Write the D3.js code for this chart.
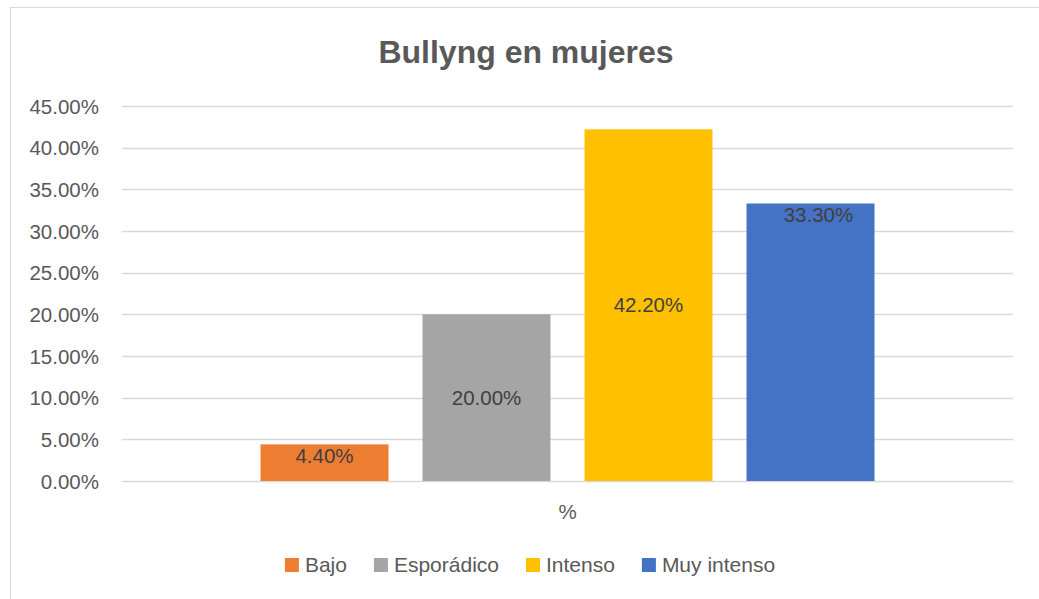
<!DOCTYPE html>
<html>
<head>
<meta charset="utf-8">
<script src="https://cdn.jsdelivr.net/npm/d3@7"></script>
<style>
  html, body { margin: 0; padding: 0; background: #fff; }
  svg { display: block; font-family: "Liberation Sans", Arial, sans-serif; }
</style>
</head>
<body>
<svg id="chart" width="1039" height="599"></svg>
<script>
const title = "Bullyng en mujeres";
const category = "%";
const series = ["Bajo", "Esporádico", "Intenso", "Muy intenso"];
const values = [0.044, 0.20, 0.422, 0.333];
const colors = ["#ED7D31", "#A5A5A5", "#FFC000", "#4472C4"];
const labelPlacement = ["end", "center", "center", "end"];
const yTicks = [0, 0.05, 0.10, 0.15, 0.20, 0.25, 0.30, 0.35, 0.40, 0.45];

const svg = d3.select("#chart");
const FS = "20.5px";

// chart frame (extends past the right/bottom of the picture)
svg.append("rect").attr("x", 10.5).attr("y", 7.5).attr("width", 1100).attr("height", 700)
  .attr("fill", "#fff").attr("stroke", "#D9D9D9").attr("stroke-width", 1);

const plot = { left: 122, right: 1013, top: 106, bottom: 481 };

const y = d3.scaleLinear().domain([0, 0.45]).range([plot.bottom, plot.top]);
const xCat = d3.scaleBand().domain([category]).range([plot.left, plot.right]).paddingInner(0).paddingOuter(0.2256);
const x = d3.scaleBand().domain(series).range([xCat(category), xCat(category) + xCat.bandwidth()]).paddingInner(0.21).paddingOuter(0);

// gridlines
svg.append("g").selectAll("line").data(yTicks).join("line")
  .attr("x1", plot.left).attr("x2", plot.right)
  .attr("y1", d => Math.round(y(d)) + 0.5).attr("y2", d => Math.round(y(d)) + 0.5)
  .attr("stroke", "#D9D9D9").attr("stroke-width", 1.5);

// y axis labels
const yAxis = d3.axisLeft(y).tickValues(yTicks).tickFormat(d3.format(".2%")).tickSize(0).tickPadding(0);
const gy = svg.append("g").attr("transform", `translate(99,0)`).call(yAxis);
gy.select(".domain").remove();
gy.selectAll("text").attr("fill", "#595959").attr("font-size", FS)
  .attr("font-family", "'Liberation Sans', Arial, sans-serif").attr("dy", "0.35em");

// bars
svg.append("g").selectAll("rect").data(series).join("rect")
  .attr("x", d => x(d)).attr("width", x.bandwidth())
  .attr("y", (d, i) => y(values[i])).attr("height", (d, i) => y(0) - y(values[i]))
  .attr("fill", (d, i) => colors[i]);

// data labels
svg.append("g").selectAll("text").data(series).join("text")
  .attr("x", (d, i) => x(d) + x.bandwidth() / 2 + (i === 3 ? 8 : 0))
  .attr("y", (d, i) => labelPlacement[i] === "center" ? (y(values[i]) + y(0)) / 2 : y(values[i]) + 11)
  .attr("dy", "0.35em").attr("text-anchor", "middle")
  .attr("fill", "#404040").attr("font-size", FS)
  .text((d, i) => d3.format(".2%")(values[i]));

// category label
svg.append("text").attr("x", xCat(category) + xCat.bandwidth() / 2).attr("y", 512)
  .attr("dy", "0.35em").attr("text-anchor", "middle").attr("fill", "#595959").attr("font-size", FS)
  .text(category);

// title
svg.append("text").attr("x", 526).attr("y", 52).attr("dy", "0.35em").attr("text-anchor", "middle")
  .attr("fill", "#595959").attr("font-size", "32px").attr("font-weight", "bold")
  .text(title);

// legend
const legend = svg.append("g");
const items = legend.selectAll("g").data(series).join("g");
items.append("rect").attr("width", 14).attr("height", 14).attr("y", -7).attr("fill", (d, i) => colors[i]);
items.append("text").attr("x", 20).attr("dy", "0.35em").attr("fill", "#595959").attr("font-size", "21px").text(d => d);
const widths = [];
items.each(function () { widths.push(this.querySelector("text").getComputedTextLength() + 20); });
const gap = 27;
const total = d3.sum(widths) + gap * (widths.length - 1);
let start = 530 - total / 2;
items.attr("transform", (d, i) => { const t = `translate(${start},565)`; start += widths[i] + gap; return t; });
</script>
</body>
</html>
